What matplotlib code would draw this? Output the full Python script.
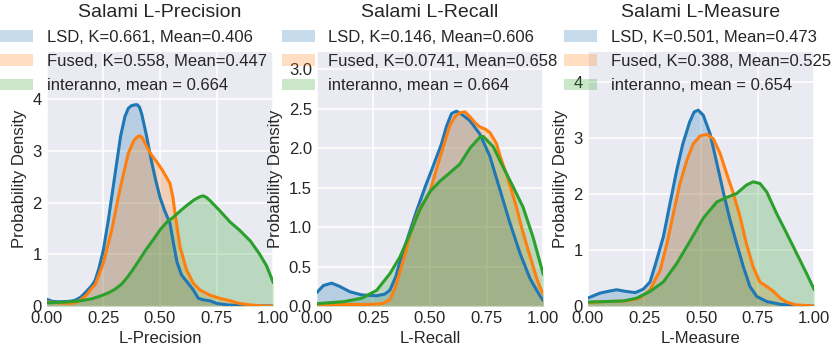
import matplotlib
matplotlib.use("Agg")
import matplotlib.pyplot as plt
from matplotlib.patches import Patch

plt.rcParams.update({
    "font.family": ["Liberation Sans", "DejaVu Sans"],
    "axes.facecolor": "#EAEAF2",
    "axes.edgecolor": "white",
    "axes.grid": True,
    "grid.color": "white",
    "grid.linewidth": 1.1,
    "axes.axisbelow": True,
    "text.color": "#262626",
    "axes.labelcolor": "#262626",
    "xtick.color": "#262626",
    "ytick.color": "#262626",
    "xtick.major.size": 0,
    "ytick.major.size": 0,
    "xtick.major.pad": 3.5,
    "ytick.major.pad": 3.5,
    "xtick.labelsize": 12,
    "ytick.labelsize": 12,
    "axes.labelsize": 12,
})

W, H = 831, 347
COLORS = ["#1f77b4", "#ff7f0e", "#2ca02c"]

# ---------------- Data ----------------
titles = ["Salami L-Precision", "Salami L-Recall", "Salami L-Measure"]
xlabels = ["L-Precision", "L-Recall", "L-Measure"]
ylims = [4.91, 3.22, 4.54]
yticks = [[0, 1, 2, 3, 4], [0.0, 0.5, 1.0, 1.5, 2.0, 2.5, 3.0], [0, 1, 2, 3, 4]]
ytick_labels = [["0", "1", "2", "3", "4"],
                ["0.0", "0.5", "1.0", "1.5", "2.0", "2.5", "3.0"],
                ["0", "1", "2", "3", "4"]]
xticks = [0.0, 0.25, 0.5, 0.75, 1.0]
xtick_labels = ["0.00", "0.25", "0.50", "0.75", "1.00"]

labels_prec = ["LSD, K=0.661, Mean=0.406", "Fused, K=0.558, Mean=0.447", "interanno, mean = 0.664"]
labels_rec = ["LSD, K=0.146, Mean=0.606", "Fused, K=0.0741, Mean=0.658", "interanno, mean = 0.664"]
labels_meas = ["LSD, K=0.501, Mean=0.473", "Fused, K=0.388, Mean=0.525", "interanno, mean = 0.654"]

# L-Precision densities
prec_lsd_x = [0, .025, .05, .1, .125, .15, .175, .2, .214, .23, .25, .272, .3, .326, .345, .36, .373, .39,
              .4, .41, .42, .44, .46, .48, .5, .52, .544, .56, .575, .595, .624, .647, .669, .691, .72,
              .75, .8, .85, .9, 1.0]
prec_lsd_y = [.13, .09, .08, .09, .11, .17, .28, .4, .5, .72, 1.08, 1.66, 2.5, 3.28, 3.66, 3.82, 3.87, 3.89,
              3.89, 3.84, 3.7, 3.3, 2.85, 2.45, 2.1, 1.85, 1.6, 1.2, .85, .6, .44, .31, .15, .12, .1,
              .05, .02, .01, .005, 0]
prec_fus_x = [0, .05, .1, .125, .15, .175, .2, .214, .25, .287, .323, .36, .385, .4, .411, .422, .433,
              .462, .49, .51, .535, .544, .557, .566, .588, .617, .647, .676, .72, .763, .81, .85, .9,
              .96, 1.0]
prec_fus_y = [.08, .06, .05, .06, .12, .21, .35, .41, .83, 1.47, 2.25, 2.95, 3.2, 3.27, 3.29, 3.25, 3.15,
              2.92, 2.76, 2.63, 2.44, 2.37, 2.1, 1.8, 1.15, .7, .44, .31, .21, .15, .1, .05, .02,
              0, 0]
prec_int_x = [0, .05, .1, .147, .2, .235, .27, .3, .33, .355, .38, .41, .44, .47, .5, .53, .56, .59,
              .62, .65, .675, .69, .705, .72, .76, .81, .85, .9, .94, .97, 1.0]
prec_int_y = [.06, .07, .08, .1, .14, .19, .25, .32, .42, .55, .7, .9, 1.1, 1.28, 1.47, 1.62, 1.72, 1.84,
              1.95, 2.05, 2.11, 2.13, 2.1, 2.04, 1.86, 1.62, 1.47, 1.25, 1.0, .78, .45]

# L-Recall densities
rec_lsd_x = [0, .03, .066, .1, .147, .2, .265, .3, .323, .35, .367, .4, .44, .48, .52, .55, .573, .595,
             .617, .64, .676, .72, .764, .808, .852, .897, .941, .985, 1.0]
rec_lsd_y = [.17, .26, .29, .25, .18, .14, .13, .15, .2, .38, .56, .85, 1.2, 1.52, 1.82, 2.05, 2.28, 2.44,
             2.47, 2.43, 2.35, 2.18, 1.9, 1.48, 1.06, .67, .35, .13, .07]
rec_fus_x = [0, .12, .235, .29, .323, .345, .367, .39, .411, .433, .455, .48, .5, .52, .543, .565, .588,
             .61, .632, .654, .676, .7, .72, .745, .764, .793, .815, .838, .86, .882, .904, .926, .95,
             .97, .985, 1.0]
rec_fus_y = [.01, .02, .02, .03, .08, .22, .43, .65, .9, 1.08, 1.24, 1.35, 1.45, 1.65, 1.87, 2.08, 2.29,
             2.4, 2.45, 2.46, 2.4, 2.32, 2.27, 2.24, 2.2, 2.06, 1.85, 1.67, 1.46, 1.25, 1.0, .78, .55,
             .36, .24, .15]
rec_int_x = [0, .12, .2, .265, .323, .367, .411, .455, .5, .543, .588, .632, .676, .72, .735, .779, .823,
             .867, .911, .955, 1.0]
rec_int_y = [.03, .055, .1, .2, .41, .62, .91, 1.22, 1.45, 1.58, 1.69, 1.8, 2.0, 2.14, 2.15, 2.02, 1.76,
             1.51, 1.25, .87, .4]

# L-Measure densities
meas_lsd_x = [0, .054, .1, .128, .17, .21, .245, .275, .3, .334, .363, .393, .42, .45, .47, .488, .51,
              .54, .57, .6, .628, .657, .687, .716, .746, .79, .85, .91, 1.0]
meas_lsd_y = [.14, .23, .27, .29, .26, .24, .3, .43, .76, 1.24, 1.83, 2.43, 2.9, 3.29, 3.47, 3.5, 3.41,
              3.08, 2.55, 2.01, 1.54, 1.12, .7, .35, .17, .08, .03, .01, 0]
meas_fus_x = [0, .084, .17, .23, .275, .32, .35, .378, .407, .437, .466, .496, .525, .554, .584, .613,
              .643, .672, .7, .73, .76, .79, .82, .85, .878, .92, .98, 1.0]
meas_fus_y = [.06, .08, .09, .14, .29, .64, 1.12, 1.65, 2.19, 2.6, 2.9, 3.04, 3.07, 2.99, 2.73, 2.37,
              2.01, 1.6, 1.12, .7, .43, .35, .26, .14, .07, .02, .005, 0]
meas_int_x = [0, .084, .157, .216, .275, .334, .393, .45, .51, .57, .613, .657, .7, .73, .76, .79, .834,
              .878, .922, .966, 1.0]
meas_int_y = [.07, .08, .09, .14, .26, .43, .76, 1.15, 1.57, 1.86, 1.94, 2.01, 2.16, 2.22, 2.19, 2.04,
              1.65, 1.3, .94, .58, .29]

panels = [
    ([(prec_lsd_x, prec_lsd_y), (prec_fus_x, prec_fus_y), (prec_int_x, prec_int_y)], labels_prec),
    ([(rec_lsd_x, rec_lsd_y), (rec_fus_x, rec_fus_y), (rec_int_x, rec_int_y)], labels_rec),
    ([(meas_lsd_x, meas_lsd_y), (meas_fus_x, meas_fus_y), (meas_int_x, meas_int_y)], labels_meas),
]

# ---------------- Layout ----------------
fig = plt.figure(figsize=(W / 100, H / 100), dpi=100)
ax_left_px = [46.7, 316.7, 587.7]
ax_w_px = 226.6
ax_top_px, ax_bot_px = 52, 306
legend_handle_left_px = [0, 281.7, 564]
legend_center_y_px = 61.5
fs_leg = 12
borderpad = 0.4

for i, (series, labels) in enumerate(panels):
    ax = fig.add_axes([ax_left_px[i] / W, 1 - ax_bot_px / H, ax_w_px / W, (ax_bot_px - ax_top_px) / H])
    for (xs, ys), c in zip(series, COLORS):
        ax.fill_between(xs, ys, 0, color=c, alpha=0.25, lw=0)
        ax.plot(xs, ys, color=c, lw=2.2, solid_joinstyle="round", solid_capstyle="round")
    ax.set_xlim(0, 1)
    ax.set_ylim(0, ylims[i])
    ax.set_xticks(xticks)
    ax.set_xticklabels(xtick_labels)
    ax.set_yticks(yticks[i])
    ax.set_yticklabels(ytick_labels[i])
    for s in ax.spines.values():
        s.set_visible(False)
    ax.set_xlabel(xlabels[i])
    ax.set_ylabel("Probability Density")
    ax.set_title(titles[i], fontsize=14, pad=25.5)
    handles = [Patch(facecolor=c, alpha=0.25, edgecolor="none") for c in COLORS]
    bx = (legend_handle_left_px[i] - borderpad * fs_leg * 100 / 72) / W
    by = 1 - legend_center_y_px / H
    ax.legend(handles, labels, loc="center left", bbox_to_anchor=(bx, by),
              bbox_transform=fig.transFigure, frameon=False, fontsize=fs_leg,
              labelspacing=0.56, borderpad=borderpad, borderaxespad=0,
              handletextpad=0.8, handlelength=2.0)

fig.savefig("out.png", dpi=100)
